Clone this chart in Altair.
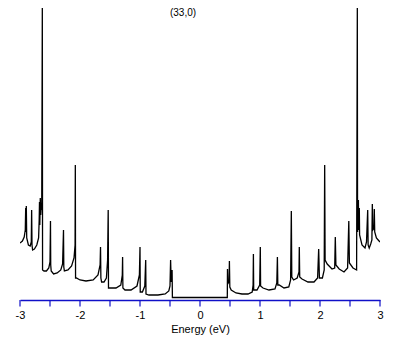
import altair as alt
import pandas as pd

# Energy (eV) and density of states (arbitrary units)
energy = [
    -3.000, -2.960, -2.930, -2.912, -2.905, -2.900, -2.895, -2.888, -2.860, -2.830,
    -2.812, -2.806, -2.800, -2.790, -2.760, -2.720, -2.690, -2.680, -2.675, -2.670,
    -2.662, -2.655, -2.645, -2.638, -2.628, -2.624, -2.600, -2.560, -2.520, -2.500,
    -2.492, -2.488, -2.480, -2.440, -2.380, -2.320, -2.290, -2.275, -2.270, -2.260,
    -2.200, -2.140, -2.100, -2.082, -2.078, -2.074, -2.060, -2.000, -1.900, -1.780,
    -1.700, -1.665, -1.658, -1.652, -1.640, -1.600, -1.560, -1.540, -1.530, -1.525,
    -1.500, -1.400, -1.320, -1.295, -1.290, -1.285, -1.250, -1.150, -1.050, -1.010,
    -1.000, -0.996, -0.960, -0.920, -0.905, -0.900, -0.850, -0.700, -0.580, -0.520,
    -0.500, -0.490, -0.480, -0.465, -0.460,
    0.455, 0.458, 0.465, 0.485, 0.490, 0.497, 0.520, 0.600, 0.700, 0.800,
    0.870, 0.885, 0.890, 0.895, 0.950, 0.995, 1.005, 1.010, 1.050, 1.150,
    1.250, 1.280, 1.290, 1.297, 1.320, 1.400, 1.480, 1.510, 1.522, 1.530,
    1.560, 1.620, 1.650, 1.655, 1.662, 1.700, 1.800, 1.900, 1.960, 1.978,
    1.990, 2.040, 2.070, 2.078, 2.085, 2.120, 2.200, 2.245, 2.255, 2.265,
    2.320, 2.400, 2.460, 2.480, 2.490, 2.550, 2.610, 2.622, 2.626, 2.640,
    2.645, 2.655, 2.660, 2.700, 2.750, 2.775, 2.795, 2.802, 2.820, 2.845,
    2.865, 2.872, 2.880, 2.900, 2.905, 2.912, 2.940, 2.970, 3.000,
]
dos = [
    57, 59, 63, 70, 92, 68, 94, 62, 55, 54,
    58, 90, 55, 50, 51, 55, 62, 80, 98, 75,
    102, 85, 96, 90, 292, 30, 29, 29, 32, 38,
    79, 35, 29, 26, 27, 30, 36, 70, 33, 29,
    30, 34, 42, 55, 135, 22, 22, 20, 19, 20,
    25, 35, 53, 22, 18, 18, 22, 40, 90, 12,
    12, 12, 15, 25, 43, 12, 10, 10, 14, 25,
    53, 8, 8, 14, 40, 6, 5, 5, 6, 9,
    14, 40, 18, 30, 2.5,
    2.5, 31, 16, 20, 39, 13, 10, 7, 6, 6,
    8, 15, 46, 10, 10, 15, 53, 14, 12, 10,
    11, 17, 43, 15, 15, 12, 13, 20, 89, 23,
    20, 22, 28, 53, 23, 21, 18, 18, 22, 51,
    22, 22, 30, 135, 40, 36, 31, 32, 63, 35,
    31, 28, 32, 79, 37, 32, 30, 292, 68, 100,
    70, 92, 65, 55, 52, 58, 90, 55, 52, 56,
    60, 96, 70, 72, 91, 68, 62, 60, 58,
]
tick_values = [-3, -2.5, -2, -1.5, -1, -0.5, 0, 0.5, 1, 1.5, 2, 2.5, 3]
title_text = ["(33,0)"]

AXIS_BLUE = "#1010c8"
xscale = alt.Scale(domain=[-3, 3], nice=False, zero=False)

df = pd.DataFrame({"E": energy, "D": dos, "i": list(range(len(energy)))})

line = alt.Chart(df).mark_line(color="black", strokeWidth=1.3, clip=True).encode(
    x=alt.X("E:Q", scale=xscale,
            axis=alt.Axis(values=tick_values, title="Energy (eV)",
                          labelExpr="datum.value % 1 == 0 ? '' + datum.value : ''",
                          grid=False, ticks=False, domainColor=AXIS_BLUE,
                          domainWidth=1.5, labelPadding=9, titlePadding=3,
                          labelFont="Liberation Sans", labelFontSize=11,
                          titleFont="Liberation Sans", titleFontSize=11,
                          titleFontWeight="normal", labelColor="black",
                          titleColor="black", labelFlush=False)),
    y=alt.Y("D:Q", scale=alt.Scale(domain=[0, 292], nice=False), axis=None),
    order="i:Q",
)

ticks = alt.Chart(pd.DataFrame({"t": tick_values})).mark_rule(
    color=AXIS_BLUE, strokeWidth=1.2
).encode(x=alt.X("t:Q", scale=xscale), y=alt.value(292), y2=alt.value(298.5))

title = alt.Chart(pd.DataFrame({"t": title_text})).mark_text(
    font="Liberation Sans", fontSize=10, baseline="top", align="center", color="black"
).encode(x=alt.value(163), y=alt.value(0), text="t:N")

chart = (line + ticks + title).properties(
    width=360, height=292,
    background="white",
    autosize=alt.AutoSizeParams(type="none"),
    padding={"left": 12, "top": 0, "right": 20, "bottom": 40},
).configure_view(stroke=None)

chart.save("out.html", embed_options={"renderer": "svg", "actions": False})
